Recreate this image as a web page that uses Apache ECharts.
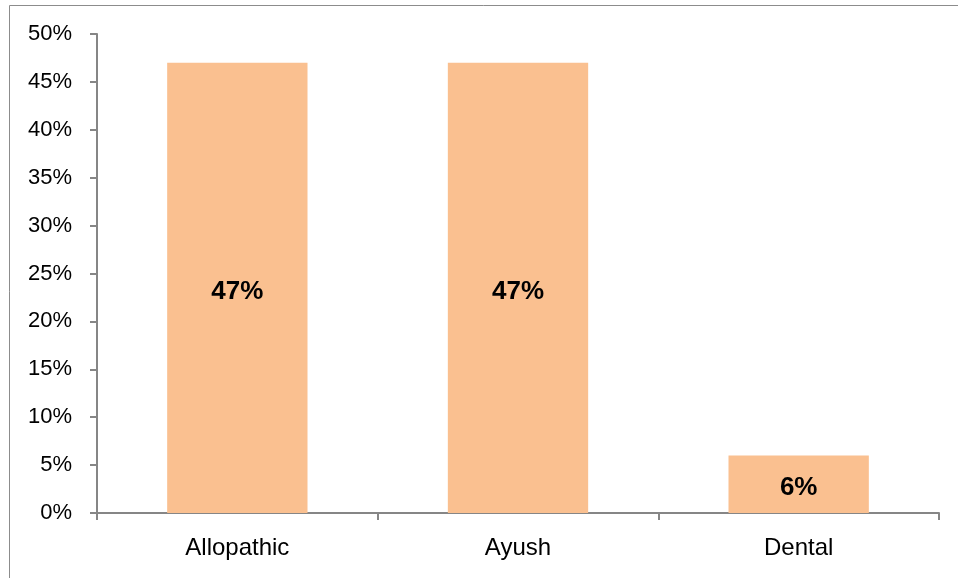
<!DOCTYPE html>
<html>
<head>
<meta charset="utf-8">
<script src="https://cdn.jsdelivr.net/npm/echarts@6/dist/echarts.min.js"></script>
<style>
  html, body { margin: 0; padding: 0; background: #fff; }
  #main { width: 958px; height: 578px; }
</style>
</head>
<body>
<div id="main"></div>
<script>
// data
const categories = ['Allopathic', 'Ayush', 'Dental'];
const shares = [47, 47, 6];
const yTicks = [0, 5, 10, 15, 20, 25, 30, 35, 40, 45, 50];

const font = '"Liberation Sans", Arial, sans-serif';
const axisGrey = '#868686';

const myChart = echarts.init(document.getElementById('main'));
const option = {
  backgroundColor: '#fff',
  animation: false,
  textStyle: { fontFamily: font },
  graphic: [
    // outer frame, only left and top are visible in the crop
    { type: 'line', shape: { x1: 9.5, y1: 5.5, x2: 958, y2: 5.5 }, style: { stroke: '#8c8c8c', lineWidth: 1 } },
    { type: 'line', shape: { x1: 9.5, y1: 5.5, x2: 9.5, y2: 578 }, style: { stroke: '#8c8c8c', lineWidth: 1 } }
  ],
  grid: { left: 97, right: 19, top: 34, bottom: 65 },
  xAxis: {
    type: 'category',
    data: categories,
    axisLine: { lineStyle: { color: axisGrey, width: 2 } },
    axisTick: { show: true, length: 7, lineStyle: { color: axisGrey, width: 2 } },
    axisLabel: { color: '#000', fontSize: 24, fontFamily: font, margin: 23 }
  },
  yAxis: {
    type: 'value',
    min: yTicks[0],
    max: yTicks[yTicks.length - 1],
    interval: 5,
    splitLine: { show: false },
    axisLine: { show: true, lineStyle: { color: axisGrey, width: 2 } },
    axisTick: { show: true, length: 7, lineStyle: { color: axisGrey, width: 2 } },
    axisLabel: { color: '#000', fontSize: 22, fontFamily: font, margin: 25, formatter: '{value}%' }
  },
  series: [{
    type: 'bar',
    data: shares,
    barWidth: '50%',
    itemStyle: { color: '#FAC090' },
    label: {
      show: true,
      position: 'inside',
      offset: [0, 4],
      formatter: '{c}%',
      color: '#000',
      fontWeight: 'bold',
      fontSize: 26,
      fontFamily: font
    }
  }]
};
myChart.setOption(option);
</script>
</body>
</html>
